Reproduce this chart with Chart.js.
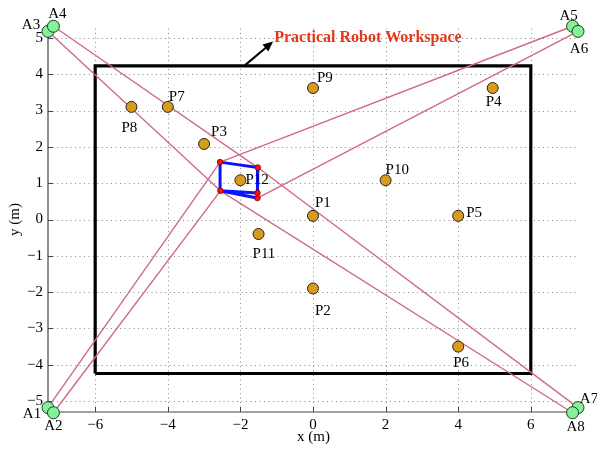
<!DOCTYPE html>
<html><head><meta charset="utf-8">
<script src="https://cdn.jsdelivr.net/npm/chart.js@4.4.1/dist/chart.umd.min.js"></script>
<style>html,body{margin:0;padding:0;background:#fff}#wrap{width:597px;height:449px}</style>
</head><body><div id="wrap"><canvas id="c"></canvas></div>
<script>
// ---- data ----
const pointNames = ['P1','P2','P3','P4','P5','P6','P7','P8','P9','P10','P11','P12'];
const pointX = [0, 0, -3, 4.95, 4, 4, -4, -5, 0, 2, -1.5, -2];
const pointY = [0.1, -1.9, 2.08, 3.62, 0.1, -3.5, 3.1, 3.1, 3.62, 1.08, -0.4, 1.08];

const anchorNames = ['A1','A2','A3','A4','A5','A6','A7','A8'];
const anchorX = [-7.3, -7.15, -7.3, -7.15, 7.15, 7.3, 7.3, 7.15];
const anchorY = [-5.18, -5.32, 5.18, 5.32, 5.32, 5.18, -5.18, -5.32];

// platform attachment points: TL, TR, BR1, BR2, BL
const cornerX = [-2.56, -1.52, -1.53, -1.53, -2.55];
const cornerY = [1.58, 1.43, 0.73, 0.59, 0.79];
// cable i goes from anchor i to corner cableCorner[i]
const cableCorner = [0, 4, 4, 1, 0, 3, 1, 4];
// platform outline order (corner indices)
const platformPath = [2, 4, 0, 1, 3, 4];

const workspaceX = [-6, 6, 6, -6, -6];
const workspaceY = [-4.24, -4.24, 4.23, 4.23, -4.24];

const xTicks = [-6, -4, -2, 0, 2, 4, 6];
const yTicks = [-5, -4, -3, -2, -1, 0, 1, 2, 3, 4, 5];

const workspaceLabel = 'Practical Robot Workspace';
const arrowFrom = {x: -1.87, y: 4.25};
const arrowTo = {x: -1.1, y: 4.9};
const labelAt = {x: -1.07, y: 5.0};

// ---- styles (label pixel offsets) ----
const pLabelOff = [[2,-13],[2,23],[7,-12],[-7,14],[8,-3],[-5,16],[1,-10],[-10,21],[4,-10],[0,-10],[-6,20],[5,0]];
const aLabelOff = [[-16,6],[0,13],[-17,-6],[4,-12],[-4,-10],[1,18],[11,-9],[3,14]];

const SERIF = '"Liberation Serif", "Times New Roman", serif';
const minusFmt = v => (v < 0 ? '\u2212' + Math.abs(v) : String(v));

const datasets = [];
datasets.push({
  label: 'workspace', type: 'line',
  data: workspaceX.map((x, i) => ({x, y: workspaceY[i]})),
  borderColor: '#000', borderWidth: 3.2, pointRadius: 0, fill: false, tension: 0,
  order: 6
});
anchorX.forEach((ax, i) => {
  const c = cableCorner[i];
  datasets.push({
    label: 'cable' + (i + 1), type: 'line',
    data: [{x: ax, y: anchorY[i]}, {x: cornerX[c], y: cornerY[c]}],
    borderColor: '#d06a86', borderWidth: 1.4, pointRadius: 0, fill: false, tension: 0,
    order: 5
  });
});
datasets.push({
  label: 'platform', type: 'line',
  data: platformPath.map(k => ({x: cornerX[k], y: cornerY[k]})),
  borderColor: '#0a14ff', borderWidth: 3, pointRadius: 0, fill: false, tension: 0,
  order: 4
});
datasets.push({
  label: 'attach', type: 'scatter',
  data: cornerX.map((x, i) => ({x, y: cornerY[i]})),
  backgroundColor: '#ff1010', borderColor: '#700', borderWidth: 0.8, pointRadius: 2.8,
  order: 3
});
datasets.push({
  label: 'points', type: 'scatter',
  data: pointX.map((x, i) => ({x, y: pointY[i]})),
  backgroundColor: '#d89c1c', borderColor: '#222', borderWidth: 1, pointRadius: 5.5,
  order: 2
});
datasets.push({
  label: 'anchors', type: 'scatter',
  data: anchorX.map((x, i) => ({x, y: anchorY[i]})),
  backgroundColor: '#84f29a', borderColor: '#1d3d1d', borderWidth: 1, pointRadius: 6,
  order: 1
});
datasets.forEach(d => { d.clip = false; });

const decor = {
  id: 'decor',
  beforeDatasetsDraw(chart) {
    const ctx = chart.ctx, xs = chart.scales.x, ys = chart.scales.y, a = chart.chartArea;
    ctx.save();
    // dotted grid
    ctx.strokeStyle = '#8a8a8a'; ctx.lineWidth = 1; ctx.setLineDash([1, 3.5]);
    xTicks.forEach(v => { const p = Math.round(xs.getPixelForValue(v)) + 0.5; ctx.beginPath(); ctx.moveTo(p, a.bottom); ctx.lineTo(p, a.top); ctx.stroke(); });
    yTicks.forEach(v => { const p = Math.round(ys.getPixelForValue(v)) + 0.5; ctx.beginPath(); ctx.moveTo(a.left, p); ctx.lineTo(a.right, p); ctx.stroke(); });
    ctx.setLineDash([]);
    // axes lines
    ctx.strokeStyle = '#444'; ctx.lineWidth = 1.2;
    ctx.beginPath(); ctx.moveTo(a.left, a.top); ctx.lineTo(a.left, a.bottom); ctx.lineTo(a.right, a.bottom); ctx.stroke();
    // inward tick marks
    ctx.lineWidth = 1;
    xTicks.forEach(v => { const p = Math.round(xs.getPixelForValue(v)) + 0.5; ctx.beginPath(); ctx.moveTo(p, a.bottom); ctx.lineTo(p, a.bottom - 5); ctx.stroke(); });
    yTicks.forEach(v => { const p = Math.round(ys.getPixelForValue(v)) + 0.5; ctx.beginPath(); ctx.moveTo(a.left, p); ctx.lineTo(a.left + 5, p); ctx.stroke(); });
    // axis titles
    ctx.fillStyle = '#000'; ctx.font = '15px ' + SERIF; ctx.textAlign = 'center'; ctx.textBaseline = 'middle';
    ctx.fillText('x (m)', (a.left + a.right) / 2 + 0.5, 437);
    ctx.save(); ctx.translate(15, (a.top + a.bottom) / 2); ctx.rotate(-Math.PI / 2); ctx.fillText('y (m)', 0, 0); ctx.restore();
    ctx.restore();
  },
  afterDatasetsDraw(chart) {
    const ctx = chart.ctx, xs = chart.scales.x, ys = chart.scales.y;
    ctx.save();
    ctx.fillStyle = '#000'; ctx.font = '15px ' + SERIF; ctx.textBaseline = 'middle'; ctx.textAlign = 'left';
    pointNames.forEach((n, i) => {
      const px = xs.getPixelForValue(pointX[i]), py = ys.getPixelForValue(pointY[i]);
      ctx.fillText(n, px + pLabelOff[i][0], py + pLabelOff[i][1]);
    });
    ctx.textAlign = 'center';
    anchorNames.forEach((n, i) => {
      const px = xs.getPixelForValue(anchorX[i]), py = ys.getPixelForValue(anchorY[i]);
      ctx.fillText(n, px + aLabelOff[i][0], py + aLabelOff[i][1]);
    });
    // arrow
    const x1 = xs.getPixelForValue(arrowFrom.x), y1 = ys.getPixelForValue(arrowFrom.y);
    const x2 = xs.getPixelForValue(arrowTo.x), y2 = ys.getPixelForValue(arrowTo.y);
    ctx.strokeStyle = '#000'; ctx.lineWidth = 2;
    const ang = Math.atan2(y2 - y1, x2 - x1);
    ctx.beginPath(); ctx.moveTo(x1, y1); ctx.lineTo(x2 - 6 * Math.cos(ang), y2 - 6 * Math.sin(ang)); ctx.stroke();
    ctx.fillStyle = '#000';
    ctx.beginPath(); ctx.moveTo(x2, y2);
    ctx.lineTo(x2 - 10 * Math.cos(ang) + 4.5 * Math.sin(ang), y2 - 10 * Math.sin(ang) - 4.5 * Math.cos(ang));
    ctx.lineTo(x2 - 10 * Math.cos(ang) - 4.5 * Math.sin(ang), y2 - 10 * Math.sin(ang) + 4.5 * Math.cos(ang));
    ctx.closePath(); ctx.fill();
    // workspace label
    ctx.fillStyle = '#e5361c'; ctx.font = 'bold 16px ' + SERIF; ctx.textAlign = 'left';
    ctx.fillText(workspaceLabel, xs.getPixelForValue(labelAt.x), ys.getPixelForValue(labelAt.y));
    ctx.restore();
  }
};

new Chart(document.getElementById('c'), {
  data: {datasets},
  options: {
    responsive: true, maintainAspectRatio: false, animation: false,
    layout: {padding: {top: 27, right: 19, bottom: 0, left: 0}},
    plugins: {legend: {display: false}, tooltip: {enabled: false}},
    scales: {
      x: {
        type: 'linear', min: -7.3, max: 7.3,
        afterFit(s) { s.height = 37; },
        afterBuildTicks(s) { s.ticks = xTicks.map(v => ({value: v})); },
        grid: {display: false, drawTicks: false}, border: {display: false},
        ticks: {callback: minusFmt, color: '#000', font: {family: SERIF, size: 15}, padding: 4, maxRotation: 0}
      },
      y: {
        type: 'linear', min: -5.3, max: 5.3,
        afterFit(s) { s.width = 48; },
        afterBuildTicks(s) { s.ticks = yTicks.map(v => ({value: v})); },
        grid: {display: false, drawTicks: false}, border: {display: false},
        ticks: {callback: minusFmt, color: '#000', font: {family: SERIF, size: 15}, padding: 5}
      }
    }
  },
  plugins: [decor]
});
</script></body></html>
